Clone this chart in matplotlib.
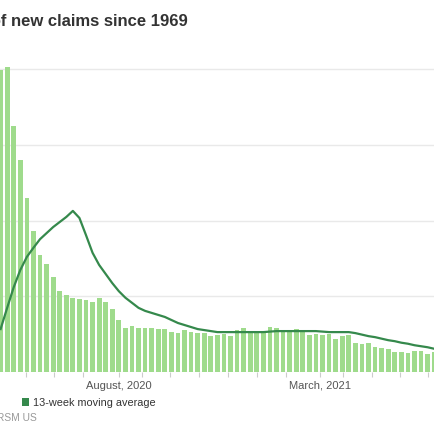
import matplotlib
matplotlib.use("Agg")
import matplotlib.pyplot as plt
from matplotlib.patches import Rectangle

plt.rcParams['font.family'] = ['Liberation Sans', 'DejaVu Sans']

# weekly initial claims, millions (one bar per week)
claims = [5.98, 6.04, 4.87, 4.20, 3.45, 2.79, 2.32, 2.14, 1.88, 1.60,
          1.52, 1.47, 1.45, 1.43, 1.39, 1.47, 1.39, 1.25, 1.03, 0.87,
          0.91, 0.87, 0.87, 0.87, 0.85, 0.85, 0.79, 0.77, 0.83, 0.79,
          0.77, 0.77, 0.71, 0.73, 0.75, 0.71, 0.83, 0.87, 0.77, 0.77,
          0.77, 0.89, 0.87, 0.83, 0.81, 0.85, 0.83, 0.73, 0.75, 0.73,
          0.75, 0.65, 0.72, 0.73, 0.57, 0.55, 0.58, 0.50, 0.47, 0.46,
          0.40, 0.39, 0.38, 0.41, 0.41, 0.36, 0.40]

# 13-week moving average, millions
moving_avg = [0.85, 1.27, 1.68, 2.02, 2.28, 2.46, 2.63, 2.75, 2.87, 2.97,
              3.07, 3.19, 3.05, 2.71, 2.36, 2.12, 1.94, 1.76, 1.60, 1.47,
              1.37, 1.27, 1.21, 1.17, 1.13, 1.09, 1.03, 0.97, 0.93, 0.89,
              0.85, 0.83, 0.81, 0.79, 0.79, 0.79, 0.79, 0.79, 0.79, 0.79,
              0.79, 0.80, 0.81, 0.81, 0.81, 0.81, 0.81, 0.81, 0.81, 0.80,
              0.79, 0.79, 0.79, 0.79, 0.77, 0.74, 0.71, 0.69, 0.66, 0.63,
              0.61, 0.58, 0.56, 0.53, 0.51, 0.49, 0.46]

# month ticks (in week units) and their labels
tick_pos = [3.87, 8.13, 12.54, 18.0, 21.5, 25.8, 30.2, 34.6, 39.0,
            43.4, 48.6, 52.1, 56.5, 60.8, 65.1]
tick_labels = ['', '', '', 'August, 2020', '', '', '', '', '',
               '', 'March, 2021', '', '', '', '']

grid_vals = [0, 1.5, 3.0, 4.5, 6.0]

BAR = '#9fdb8c'
LINE = '#35894c'

W = H = 435
fig = plt.figure(figsize=(4.35, 4.35), dpi=100)
fig.patch.set_facecolor('white')
ax = fig.add_axes([0, 62 / H, 1, 6.6 * 50.5 / H])

weeks = list(range(len(claims)))
ax.bar(weeks, claims, width=0.72, facecolor=BAR, edgecolor='none', linewidth=0,
       antialiased=False, zorder=2)
ax.plot(weeks, moving_avg, color=LINE, lw=1.6, zorder=3)

ax.set_xlim(-0.09, 66.12)
ax.set_ylim(0, 6.6)
ax.set_yticks(grid_vals)
ax.set_yticklabels([])
ax.tick_params(axis='y', length=0)
ax.grid(axis='y', color='#e9e9e9', lw=1, zorder=0)
ax.set_axisbelow(True)
for s in ax.spines.values():
    s.set_visible(False)

ax.set_xticks(tick_pos)
ax.set_xticklabels(tick_labels, fontsize=8, color='#555555')
ax.tick_params(axis='x', length=3.5, width=0.8, color='#cccccc', pad=2)

# title, cut off at the left edge like the reference
fig.text(188 / W, (H - 26) / H, 'Initial jobless claims: highest level of new claims since 1969',
         ha='right', va='baseline', fontsize=12, fontweight='bold', color='#333333')

# legend
fig.patches.append(Rectangle((22 / W, (H - 407) / H), 7 / W, 8 / H,
                             transform=fig.transFigure, facecolor=LINE, edgecolor='none'))
fig.text(33 / W, (H - 403) / H, '13-week moving average', ha='left', va='center',
         fontsize=7.8, color='#333333')

# source
fig.text(37 / W, (H - 418) / H, 'Source: RSM US', ha='right', va='center',
         fontsize=7.4, color='#999999')

fig.savefig('out.png', dpi=100, facecolor='white')
